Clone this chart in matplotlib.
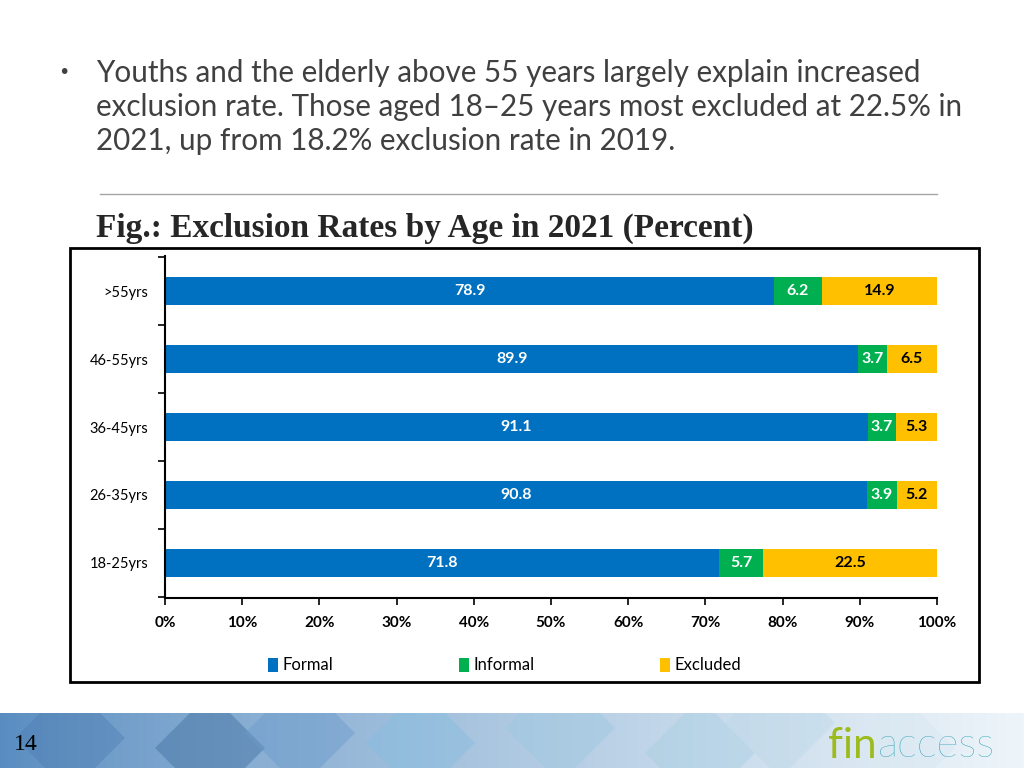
import numpy as np
import matplotlib
matplotlib.use("Agg")
import matplotlib.pyplot as plt
from matplotlib.patches import Rectangle, Polygon

# data (percent)
ages = ['18-25yrs', '26-35yrs', '36-45yrs', '46-55yrs', '>55yrs']
formal = [71.8, 90.8, 91.1, 89.9, 78.9]
informal = [5.7, 3.9, 3.7, 3.7, 6.2]
excluded = [22.5, 5.2, 5.3, 6.5, 14.9]
series_names = ['Formal', 'Informal', 'Excluded']
xticks = [0, 10, 20, 30, 40, 50, 60, 70, 80, 90, 100]

colors = ['#0070C0', '#00B050', '#FFC000']
label_colors = ['white', 'white', 'black']

fig = plt.figure(figsize=(10.24, 7.68), dpi=100)
W, H = 1024.0, 768.0

# bullet text
bullet = ["Youths and the elderly above 55 years largely explain increased",
          "exclusion rate. Those aged 18\u201325 years most excluded at 22.5% in",
          "2021, up from 18.2% exclusion rate in 2019."]
fig.text(58 / W, 1 - 73 / H, "\u2022", fontsize=14, color='#404040', va='center', family='DejaVu Sans')
for i, line in enumerate(bullet):
    fig.text(96 / W, 1 - (73 + 34 * i) / H, line, fontsize=21.3, color='#404040',
             va='center', family='Lato')

# separator line
fig.add_artist(plt.Line2D([100 / W, 937 / W], [1 - 194 / H, 1 - 194 / H],
                          color='#a6a6a6', lw=1))

# figure title
fig.text(96 / W, 1 - 228 / H, "Fig.: Exclusion Rates by Age in 2021 (Percent)",
         fontsize=24, fontweight='bold', family='Liberation Serif', color='#262626', va='center')

# chart frame
fig.add_artist(Rectangle((70 / W, 1 - 682 / H), (979 - 70) / W, (682 - 248) / H,
                         transform=fig.transFigure, fill=False, ec='black', lw=2))

ax = fig.add_axes([165 / W, 1 - 598 / H, (937 - 165) / W, (598 - 256) / H])

data = np.array([formal, informal, excluded])
totals = data.sum(axis=0)
shares = data / totals * 100  # 100% stacked
y = np.arange(len(ages))
left = np.zeros(len(ages))
for k in range(3):
    ax.barh(y, shares[k], left=left, height=0.4, color=colors[k], label=series_names[k])
    for j in range(len(ages)):
        ax.text(left[j] + shares[k][j] / 2, y[j], f"{data[k][j]:.1f}", ha='center', va='center',
                color=label_colors[k], fontsize=11.5, fontweight='bold', family='Lato')
    left += shares[k]

ax.set_xlim(0, 100)
ax.set_ylim(-0.515, 4.515)
ax.set_xticks(xticks)
ax.set_xticklabels([f"{t}%" for t in xticks], fontsize=11, fontweight='bold', family='Lato')
ax.set_yticks(y)
ax.set_yticklabels(ages, fontsize=10.5, family='Lato')
ax.set_yticks(np.arange(-0.5, 5, 1), minor=True)
ax.tick_params(axis='y', which='major', length=0, pad=12)
ax.tick_params(axis='y', which='minor', length=5, width=1.2, direction='out')
ax.tick_params(axis='x', length=5, width=1.2, direction='out', pad=8)
for s in ['top', 'right']:
    ax.spines[s].set_visible(False)
for s in ['left', 'bottom']:
    ax.spines[s].set_linewidth(1.5)

leg = ax.legend(loc='upper center', bbox_to_anchor=(0.44, -0.13), ncol=3, frameon=False,
                handlelength=0.6, handleheight=0.9, handletextpad=0.3, columnspacing=7.5,
                prop={'family': 'Lato', 'size': 12})

# footer band
fax = fig.add_axes([0, 0, 1, 55 / H])
grad = np.linspace(0, 1, 512)
c0 = np.array([88, 140, 192]) / 255.0
c1 = np.array([238, 245, 250]) / 255.0
img = c0[None, :] + (c1 - c0)[None, :] * grad[:, None] ** 0.8
fax.imshow(img[None, :, :], aspect='auto', extent=[0, 1024, 0, 55])
diamonds = [(70, 30, '#4f7fb4'), (210, 20, '#3f6f9f'), (300, 35, '#6a9bcb'), (420, 25, '#86bde0'),
            (560, 40, '#9cc8e0'), (700, 15, '#a8cfe3'), (780, 45, '#bcd8e8'), (900, 20, '#d8e8f2')]
for cx, cy, c in diamonds:
    fax.add_patch(Polygon([(cx - 55, cy), (cx, cy + 55), (cx + 55, cy), (cx, cy - 55)],
                          closed=True, color=c, alpha=0.45, lw=0))
fax.set_xlim(0, 1024)
fax.set_ylim(0, 55)
fax.axis('off')
fig.text(14 / W, 23 / H, "14", fontsize=17, family='Liberation Serif', color='black', va='center')

# logo: "fin" + "access" drawn side by side
t1 = fig.text(828 / W, 22 / H, "fin", fontsize=30.5, family='Lato', color='#9cbb1c', va='center')
fig.canvas.draw()
bb = t1.get_window_extent(renderer=fig.canvas.get_renderer())
fig.text(bb.x1 / W + 1 / W, 22 / H, "access", fontsize=30.5, family='Lato', fontweight='light',
         color='#1f9bb0', va='center')

fig.savefig("out.png", dpi=100)
